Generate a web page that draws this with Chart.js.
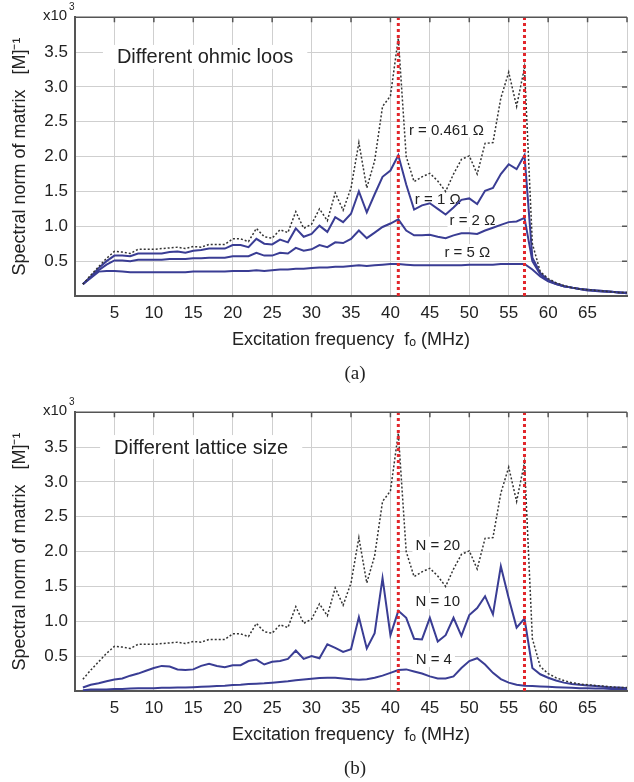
<!DOCTYPE html>
<html>
<head>
<meta charset="utf-8">
<script src="https://cdn.jsdelivr.net/npm/chart.js@4.4.1/dist/chart.umd.min.js"></script>
<style>
  body { margin: 0; background: #fff; }
  #wrap { position: relative; width: 634px; height: 782px; }
  .panel { position: absolute; left: 0; width: 634px; height: 365px; }
  .cap { position: absolute; left: 355px; transform: translateX(-50%); font-family: "Liberation Serif", serif; font-size: 19px; color: #222; }
</style>
</head>
<body>
<div id="wrap">
  <div class="panel" style="top:0"><canvas id="chart-a"></canvas></div>
  <div class="cap" style="top:362px">(a)</div>
  <div class="panel" style="top:395px"><canvas id="chart-b"></canvas></div>
  <div class="cap" style="top:757px">(b)</div>
</div>
<script>
// excitation frequency, MHz
var freq = [1,2,3,4,5,6,7,8,9,10,11,12,13,14,15,16,17,18,19,20,21,22,23,24,25,26,27,28,29,30,
  31,32,33,34,35,36,37,38,39,40,41,42,43,44,45,46,47,48,49,50,51,52,53,54,55,56,57,58,59,60,
  61,62,63,64,65,66,67,68,69,70];

// resonance markers (red dotted)
var resonances = [41, 57];

// spectral norm, x10^3 -- (a) ohmic loss, (b) lattice size
var r0461 = [0.17,0.30,0.42,0.54,0.64,0.63,0.61,0.67,0.67,0.67,0.68,0.69,0.70,0.68,0.71,0.70,0.74,0.74,0.74,0.82,
  0.82,0.78,0.97,0.85,0.83,0.95,0.91,1.21,0.97,1.03,1.25,1.08,1.48,1.23,1.55,2.20,1.55,1.94,2.72,2.87,
  3.70,2.00,1.64,1.71,1.76,1.65,1.50,1.75,1.96,2.01,1.75,2.19,2.20,2.84,3.21,2.72,3.28,0.75,0.35,0.25,
  0.19,0.15,0.12,0.10,0.09,0.08,0.07,0.06,0.05,0.05];
var r1 = [0.17,0.28,0.40,0.50,0.58,0.58,0.57,0.61,0.61,0.61,0.61,0.63,0.64,0.62,0.65,0.66,0.68,0.68,0.68,0.73,
  0.73,0.70,0.82,0.75,0.74,0.81,0.77,0.97,0.85,0.89,1.01,0.92,1.13,1.06,1.18,1.50,1.20,1.46,1.71,1.80,
  2.02,1.60,1.24,1.30,1.33,1.25,1.17,1.27,1.38,1.40,1.32,1.51,1.55,1.75,1.89,1.82,2.02,0.55,0.33,0.23,
  0.18,0.14,0.12,0.10,0.09,0.08,0.07,0.06,0.05,0.05];
var r2 = [0.17,0.27,0.37,0.45,0.51,0.51,0.50,0.52,0.52,0.52,0.52,0.53,0.53,0.53,0.54,0.54,0.55,0.55,0.55,0.57,
  0.57,0.57,0.62,0.58,0.58,0.62,0.61,0.69,0.65,0.67,0.73,0.70,0.77,0.76,0.82,0.94,0.83,0.91,0.99,1.04,
  1.10,0.94,0.87,0.87,0.88,0.85,0.83,0.87,0.90,0.90,0.89,0.94,0.98,1.02,1.06,1.07,1.12,0.50,0.31,0.22,
  0.17,0.14,0.12,0.10,0.09,0.08,0.07,0.06,0.05,0.04];
var r5 = [0.17,0.26,0.35,0.36,0.36,0.35,0.34,0.34,0.34,0.34,0.34,0.34,0.34,0.34,0.35,0.35,0.35,0.35,0.35,0.36,
  0.36,0.36,0.37,0.36,0.37,0.38,0.38,0.39,0.39,0.40,0.41,0.41,0.42,0.42,0.43,0.44,0.43,0.44,0.45,0.46,
  0.46,0.45,0.44,0.44,0.44,0.44,0.44,0.44,0.44,0.45,0.45,0.45,0.45,0.46,0.46,0.46,0.46,0.38,0.28,0.21,
  0.17,0.14,0.12,0.10,0.08,0.07,0.06,0.06,0.05,0.04];
var n20 = r0461;
var n10 = [0.05,0.09,0.11,0.14,0.165,0.18,0.22,0.25,0.29,0.33,0.36,0.35,0.31,0.30,0.31,0.36,0.39,0.36,0.34,0.37,
  0.37,0.43,0.45,0.38,0.42,0.43,0.46,0.58,0.46,0.50,0.47,0.67,0.62,0.56,0.60,1.06,0.61,0.83,1.62,0.80,
  1.15,1.05,0.75,0.74,1.05,0.71,0.80,1.05,0.79,1.09,1.19,1.36,1.10,1.79,1.33,0.91,1.04,0.33,0.24,0.19,
  0.15,0.12,0.10,0.09,0.08,0.07,0.06,0.05,0.05,0.04];
var n4 = [0.01,0.02,0.02,0.02,0.03,0.03,0.035,0.04,0.04,0.04,0.045,0.045,0.05,0.05,0.055,0.06,0.065,0.07,0.075,0.085,
  0.09,0.10,0.105,0.11,0.12,0.13,0.14,0.155,0.165,0.175,0.185,0.19,0.19,0.18,0.17,0.16,0.17,0.19,0.22,0.26,
  0.30,0.31,0.28,0.25,0.21,0.18,0.18,0.21,0.33,0.43,0.47,0.38,0.26,0.17,0.12,0.09,0.075,0.07,0.065,0.06,
  0.055,0.05,0.045,0.04,0.04,0.035,0.035,0.03,0.03,0.03];

var BLUE = '#3a3d94';
var SANS = '"Liberation Sans", Arial, sans-serif';

function pts(vals) {
  return vals.map(function (v, i) { return { x: freq[i], y: v }; });
}

var frame = {
  id: 'frame',
  afterDraw: function (chart) {
    var ctx = chart.ctx, a = chart.chartArea, x = chart.scales.x, y = chart.scales.y;
    ctx.save();
    ctx.strokeStyle = '#555';
    ctx.lineWidth = 1.5;
    ctx.beginPath();
    ctx.moveTo(a.left, a.top); ctx.lineTo(a.right, a.top);
    x.ticks.forEach(function (t) {
      var px = x.getPixelForValue(t.value);
      ctx.moveTo(px, a.top); ctx.lineTo(px, a.top + 5);
    });
    y.ticks.forEach(function (t) {
      var py = y.getPixelForValue(t.value);
      ctx.moveTo(a.right, py); ctx.lineTo(a.right - 5, py);
    });
    ctx.stroke();
    ctx.fillStyle = '#222';
    ctx.font = '15px ' + SANS;
    ctx.textBaseline = 'alphabetic';
    ctx.fillText('x10', 43, 20);
    ctx.font = '10px ' + SANS;
    ctx.fillText('3', 69, 10);
    ctx.restore();
  }
};

var notes = {
  id: 'notes',
  beforeDatasetsDraw: function (chart, args, opts) {
    var ctx = chart.ctx, x = chart.scales.x, y = chart.scales.y;
    ctx.save();
    ctx.textAlign = 'center';
    ctx.textBaseline = 'middle';
    opts.items.forEach(function (n) {
      ctx.font = n.size + 'px ' + SANS;
      var px = x.getPixelForValue(n.x), py = y.getPixelForValue(n.y);
      var w = ctx.measureText(n.text).width;
      ctx.fillStyle = '#fff';
      ctx.fillRect(px - w / 2 - n.pad, py - n.h / 2, w + 2 * n.pad, n.h);
      ctx.fillStyle = '#222';
      ctx.fillText(n.text, px, py + 1);
    });
    ctx.restore();
  }
};

function makeChart(id, series, items) {
  var datasets = resonances.map(function (f) {
    return {
      data: [{ x: f, y: 0 }, { x: f, y: 4 }],
      borderColor: '#e2262b', borderWidth: 3, borderDash: [3, 3], order: 0
    };
  });
  series.forEach(function (s) {
    datasets.push({
      data: pts(s.vals),
      borderColor: s.dotted ? '#333' : BLUE,
      borderWidth: s.dotted ? 1.5 : 2,
      borderDash: s.dotted ? [2, 2] : [],
      order: 1
    });
  });
  return new Chart(document.getElementById(id).getContext('2d'), {
    type: 'line',
    data: { datasets: datasets },
    plugins: [frame, notes],
    options: {
      responsive: true,
      maintainAspectRatio: false,
      animation: false,
      layout: { padding: { top: 17, left: 0, right: 0, bottom: 0 } },
      elements: { point: { radius: 0 }, line: { tension: 0 } },
      plugins: {
        legend: { display: false },
        tooltip: { enabled: false },
        notes: { items: items }
      },
      scales: {
        x: {
          type: 'linear', min: 0, max: 70,
          afterFit: function (s) { s.height = 69; },
          grid: { color: '#cfcfcf', drawTicks: false },
          border: { color: '#555', width: 2 },
          ticks: {
            stepSize: 5, padding: 7, color: '#222',
            font: { family: SANS, size: 17 },
            callback: function (v) { return (v === 0 || v === 70) ? '' : v; }
          },
          title: {
            display: true, text: 'Excitation frequency  f\u2092 (MHz)', color: '#222',
            font: { family: SANS, size: 18 }, padding: { top: 0, bottom: 14 }
          }
        },
        y: {
          min: 0, max: 4,
          afterFit: function (s) { s.width = 75; },
          grid: { color: '#cfcfcf', drawTicks: false },
          border: { color: '#555', width: 2 },
          ticks: {
            stepSize: 0.5, padding: 7, color: '#222',
            font: { family: SANS, size: 17 },
            callback: function (v) { return (v === 0 || v === 4) ? '' : v.toFixed(1); }
          },
          title: {
            display: true, text: 'Spectral norm of matrix   [M]\u207B\u00B9', color: '#222',
            font: { family: SANS, size: 18 }, padding: { top: 9, bottom: 0 }
          }
        }
      }
    }
  });
}

makeChart('chart-a', [
  { vals: r0461, dotted: true },
  { vals: r1 }, { vals: r2 }, { vals: r5 }
], [
  { text: 'Different ohmic loos', x: 16.5, y: 3.43, size: 20, pad: 14, h: 24 },
  { text: 'r = 0.461 \u03A9', x: 47.1, y: 2.39, size: 15, pad: 3, h: 16 },
  { text: 'r = 1 \u03A9', x: 46.0, y: 1.39, size: 15, pad: 2, h: 14 },
  { text: 'r = 2 \u03A9', x: 50.4, y: 1.09, size: 15, pad: 2, h: 14 },
  { text: 'r = 5 \u03A9', x: 49.75, y: 0.63, size: 15, pad: 3, h: 16 }
]);

makeChart('chart-b', [
  { vals: n20, dotted: true },
  { vals: n10 }, { vals: n4 }
], [
  { text: 'Different lattice size', x: 16.0, y: 3.5, size: 20, pad: 14, h: 24 },
  { text: 'N = 20', x: 46.0, y: 2.1, size: 15, pad: 3, h: 16 },
  { text: 'N = 10', x: 46.0, y: 1.29, size: 15, pad: 3, h: 16 },
  { text: 'N = 4', x: 45.5, y: 0.46, size: 15, pad: 3, h: 16 }
]);
</script>
</body>
</html>
